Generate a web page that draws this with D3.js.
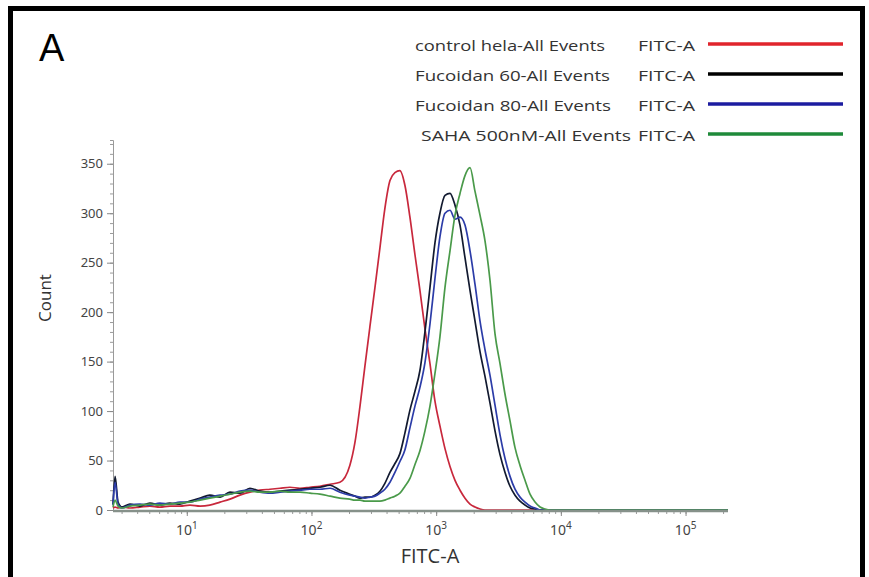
<!DOCTYPE html>
<html>
<head>
<meta charset="utf-8">
<script src="https://cdn.jsdelivr.net/npm/d3@7"></script>
<style>
  body { margin: 0; background: #fff; }
  svg { display: block; font-family: "Open Sans", "Noto Sans", sans-serif; }
</style>
</head>
<body>
<svg id="chart" width="869" height="577"></svg>
<script>
// FITC-A channel bins (shared by all histograms)
const fitcBins = [2.56, 2.66, 2.81, 3.02, 3.5, 4.21, 5.06, 6.08, 7.32, 8.81, 10.6, 12.8, 15.3, 18.5, 22.2, 26.7,
  32.1, 38.6, 46.5, 55.9, 67.2, 80.9, 97.3, 117, 141, 169, 203, 223, 245, 268, 294, 323, 354, 388, 426, 467,
  512, 562, 616, 676, 741, 813, 892, 978, 1072, 1177, 1291, 1416, 1553, 1703, 1868, 2049, 2247, 2464, 2703,
  2964, 3251, 3566, 3911, 4289, 4704, 5160, 5659, 6207, 6807, 7466, 8188, 9850, 20600, 51900, 130000, 219000];

// counts per bin
const controlCounts = [2, 3, 2, 3, 2, 3, 4, 3, 4, 4, 5, 4, 5, 8, 11, 15, 18, 20, 21, 22, 23, 22, 23, 24, 26, 28,
  45, 68, 105, 145, 185, 225, 265, 305, 333, 341, 343, 328, 296, 258, 222, 183, 148, 110, 85, 62, 44, 30, 20, 12,
  6, 3, 1, 0, 0, 0, 0, 0, 0, 0, 0, 0, 0, 0, 0, 0, 0, 0, 0, 0, 0, 0];
const fuc60Counts = [6, 34, 8, 3, 6, 4, 7, 5, 7, 6, 9, 12, 15, 13, 18, 17, 22, 19, 18, 19, 20, 21, 22, 23, 25, 20,
  16, 14, 12, 13, 13, 15, 19, 27, 38, 47, 57, 78, 101, 120, 141, 180, 225, 270, 300, 318, 320, 308, 288, 255,
  222, 191, 160, 135, 108, 80, 56, 38, 24, 15, 9, 5, 2, 1, 0, 0, 0, 0, 0, 0, 0, 0];
const fuc80Counts = [5, 28, 6, 2, 5, 6, 5, 7, 6, 8, 8, 11, 13, 15, 16, 19, 20, 18, 17, 18, 19, 20, 21, 21, 22, 18,
  15, 14, 13, 12, 13, 14, 17, 21, 28, 38, 49, 61, 83, 105, 124, 149, 188, 234, 276, 300, 303, 294, 296, 288,
  262, 228, 191, 162, 136, 106, 76, 52, 34, 21, 13, 8, 4, 2, 0, 0, 0, 0, 0, 0, 0, 0];
const sahaCounts = [3, 10, 4, 2, 4, 5, 6, 5, 6, 7, 8, 10, 12, 14, 16, 18, 19, 18, 18, 19, 18, 18, 17, 16, 14, 12,
  11, 10, 10, 9, 9, 9, 9, 10, 12, 14, 17, 24, 32, 46, 60, 80, 105, 138, 175, 225, 262, 298, 320, 338,
  346, 322, 298, 272, 232, 178, 148, 117, 90, 63, 45, 30, 16, 8, 3, 1, 0, 0, 0, 0, 0, 0];

const seriesNames = ["control hela-All Events", "Fucoidan 60-All Events", "Fucoidan 80-All Events", " SAHA 500nM-All Events"];
const yTicks = [0, 50, 100, 150, 200, 250, 300, 350];
const xMajor = [10, 100, 1000, 10000, 100000];

const series = [
  {name: seriesNames[0], counts: controlCounts, line: "#c8283c", key: "#e0242c"},
  {name: seriesNames[1], counts: fuc60Counts, line: "#121a30", key: "#000000"},
  {name: seriesNames[2], counts: fuc80Counts, line: "#2c3ca8", key: "#1c1ca0"},
  {name: seriesNames[3], counts: sahaCounts, line: "#4a9a4a", key: "#1f8a3a"}
];

const svg = d3.select("#chart");

// frame
svg.append("rect")
  .attr("x", 10.5).attr("y", 8.5)
  .attr("width", 852).attr("height", 610)
  .attr("fill", "none").attr("stroke", "#000").attr("stroke-width", 5);

svg.append("text")
  .attr("x", 39).attr("y", 61)
  .style("font-family", "'Liberation Sans', Arial, sans-serif")
  .style("font-size", "38px")
  .text("A");

// scales
const x = d3.scaleLog().domain([2.56, 219000]).range([113, 728]);
const y = d3.scaleLinear().domain([0, 374]).range([510, 140]);

// y axis
const yMinor = d3.range(0, 371, 10);
svg.append("g")
  .attr("transform", "translate(113,0)")
  .call(d3.axisLeft(y).tickValues(yMinor).tickSize(3).tickFormat(""))
  .call(g => g.selectAll("line").attr("stroke", "#9a9a9a"))
  .call(g => g.select(".domain").attr("stroke", "#9a9a9a"));

const yAx = svg.append("g")
  .attr("transform", "translate(113,0)")
  .call(d3.axisLeft(y).tickValues(yTicks).tickSize(6).tickPadding(4))
  .call(g => g.select(".domain").remove())
  .call(g => g.selectAll("line").attr("stroke", "#8a8a8a"));
yAx.selectAll("text")
  .attr("fill", "#444")
  .style("font-size", "13px")
  .style("font-family", "'Noto Sans', sans-serif");

// x axis minor + major ticks
const xMinor = [];
[1, 10, 100, 1000, 10000, 100000].forEach(d => {
  for (let k = 1; k <= 9; k++) {
    const v = d * k;
    if (v >= 2.56 && v <= 219000) xMinor.push(v);
  }
});

svg.append("g")
  .attr("transform", "translate(0,511)")
  .call(d3.axisBottom(x).tickValues(xMinor).tickSize(3).tickFormat(""))
  .call(g => g.select(".domain").remove())
  .call(g => g.selectAll("line").attr("stroke", "#9a9a9a"));

svg.append("g")
  .attr("transform", "translate(0,511)")
  .call(d3.axisBottom(x).tickValues(xMajor).tickSize(5).tickFormat(""))
  .call(g => g.select(".domain").remove())
  .call(g => g.selectAll("line").attr("stroke", "#8a8a8a"));

const xLab = svg.append("g").selectAll("text")
  .data(xMajor)
  .join("text")
  .attr("x", d => x(d))
  .attr("y", 535)
  .attr("text-anchor", "middle")
  .attr("fill", "#444")
  .style("font-size", "14px")
  .style("font-family", "'Noto Sans', sans-serif");
xLab.append("tspan").text("10");
xLab.append("tspan")
  .attr("dy", -6)
  .style("font-size", "10px")
  .text(d => Math.round(Math.log10(d)));

// histograms
const line = d3.line()
  .x((d, i) => x(fitcBins[i]))
  .y(d => y(d))
  .curve(d3.curveMonotoneX);

svg.append("g").selectAll("path")
  .data(series)
  .join("path")
  .attr("d", d => line(d.counts))
  .attr("fill", "none")
  .attr("stroke", d => d.line)
  .attr("stroke-width", 1.7)
  .attr("stroke-linejoin", "round");

// x axis baseline (drawn over curve bottoms)
svg.append("line")
  .attr("x1", 113).attr("x2", 728)
  .attr("y1", 511).attr("y2", 511)
  .attr("stroke", "#86918a").attr("stroke-width", 2.5);

// axis titles
svg.append("text")
  .attr("transform", "translate(51,298) rotate(-90)")
  .attr("text-anchor", "middle")
  .attr("fill", "#333")
  .style("font-size", "17px")
  .text("Count");

svg.append("text")
  .attr("x", 430).attr("y", 563)
  .attr("text-anchor", "middle")
  .attr("fill", "#333")
  .style("font-size", "20px")
  .text("FITC-A");

// legend
const legendWidths = [190, 195, 196, 215];
const legend = svg.append("g").selectAll("g")
  .data(series)
  .join("g")
  .attr("transform", (d, i) => "translate(0," + (44 + i * 30) + ")");

legend.append("text")
  .attr("x", (d, i) => i === 3 ? 416 : 415)
  .attr("y", 7)
  .attr("fill", "#333")
  .style("font-size", "15px")
  .attr("xml:space", "preserve")
  .attr("textLength", (d, i) => legendWidths[i])
  .attr("lengthAdjust", "spacingAndGlyphs")
  .text(d => d.name);

legend.append("text")
  .attr("x", 638)
  .attr("y", 7)
  .attr("fill", "#333")
  .style("font-size", "15px")
  .attr("textLength", 57)
  .attr("lengthAdjust", "spacingAndGlyphs")
  .text("FITC-A");

legend.append("line")
  .attr("x1", 708).attr("x2", 843)
  .attr("y1", 0).attr("y2", 0)
  .attr("stroke", d => d.key)
  .attr("stroke-width", 3.5);
</script>
</body>
</html>
